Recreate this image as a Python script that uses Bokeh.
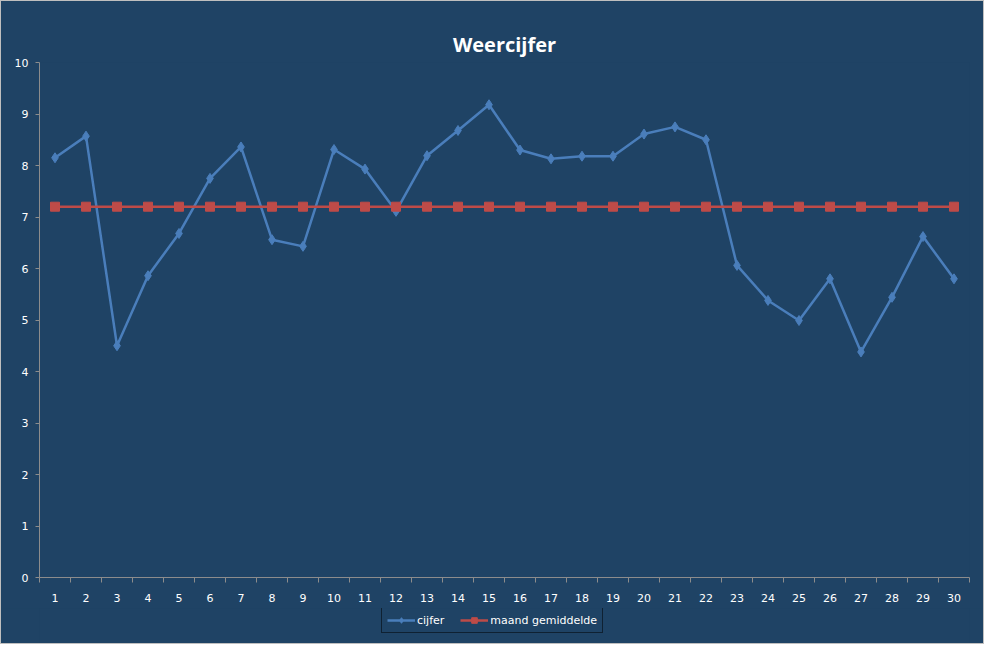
from bokeh.plotting import figure
from bokeh.layouts import column
from bokeh.models import FixedTicker, Legend, LegendItem, Range1d
from bokeh.embed import file_html
from bokeh.resources import INLINE

# dagen van de maand
dagen = list(range(1, 31))

# weercijfer per dag
cijfer = [8.15, 8.57, 4.50, 5.86, 6.68, 7.75, 8.36, 6.56, 6.43, 8.31,
          7.93, 7.11, 8.19, 8.68, 9.18, 8.30, 8.13, 8.18, 8.18, 8.61,
          8.75, 8.50, 6.06, 5.38, 4.99, 5.80, 4.38, 5.44, 6.62, 5.80]

# maandgemiddelde
gemiddelde = [7.20] * 30

y_ticks = list(range(0, 11))

bg = "#1F4365"
blauw = "#4A7EBB"
rood = "#BE4B48"
grijs = "#8C8C8C"

def series(fig):
	lijn1 = fig.line(dagen, cijfer, line_color=blauw, line_width=2.5)
	punt1 = fig.scatter(dagen, cijfer, marker="diamond", size=10, fill_color=blauw, line_color=blauw)
	lijn2 = fig.line(dagen, gemiddelde, line_color=rood, line_width=2.5)
	punt2 = fig.scatter(dagen, gemiddelde, marker="square", size=9, fill_color=rood, line_color=rood)
	return lijn1, punt1, lijn2, punt2

# grafiek
chart = figure(width=982, height=607, output_backend="svg", toolbar_location=None,
	title="Weercijfer")

chart.x_range = Range1d(0.5, 30.5)
chart.y_range = Range1d(0, 10)

chart.background_fill_color = bg
chart.border_fill_color = bg
chart.outline_line_color = None
chart.xgrid.visible = False
chart.ygrid.visible = False

chart.min_border_left = 38
chart.min_border_right = 14
chart.min_border_top = 61
chart.min_border_bottom = 31

chart.title.align = "center"
chart.title.text_color = "white"
chart.title.text_font = "Open Sans"
chart.title.text_font_size = "20px"
chart.title.text_font_style = "bold"
chart.title.standoff = 9

chart.xaxis.ticker = FixedTicker(ticks=dagen, minor_ticks=[d - 0.5 for d in dagen] + [30.5])
chart.yaxis.ticker = FixedTicker(ticks=y_ticks, minor_ticks=[])

for ax in (chart.xaxis, chart.yaxis):
	ax.axis_line_color = grijs
	ax.major_tick_line_color = grijs
	ax.minor_tick_line_color = grijs
	ax.major_label_text_color = "white"
	ax.major_label_text_font = "DejaVu Sans"
	ax.major_label_text_font_size = "11px"
	ax.major_tick_in = 0
	ax.minor_tick_in = 0

chart.xaxis.major_tick_out = 0
chart.xaxis.minor_tick_out = 5
chart.xaxis.major_label_standoff = 11
chart.yaxis.major_tick_out = 4
chart.yaxis.minor_tick_out = 0
chart.yaxis.major_label_standoff = 7

series(chart)

# legenda onder de grafiek (zelfde reeksen, buiten beeld)
lg = figure(width=982, height=35, output_backend="svg", toolbar_location=None)
lg.x_range = Range1d(0.5, 30.5)
lg.y_range = Range1d(100, 101)
lg.background_fill_color = bg
lg.border_fill_color = bg
lg.outline_line_color = None
lg.axis.visible = False
lg.grid.visible = False
lg.min_border = 0

l1, m1, l2, m2 = series(lg)

legend = Legend(items=[
	LegendItem(label="cijfer", renderers=[l1, m1]),
	LegendItem(label="maand gemiddelde", renderers=[l2, m2]),
], orientation="horizontal", location=(342, 10))
legend.background_fill_alpha = 0
legend.border_line_color = "black"
legend.border_line_width = 1
legend.label_text_color = "white"
legend.label_text_font = "DejaVu Sans"
legend.label_text_font_size = "11px"
legend.glyph_width = 28
legend.glyph_height = 14
legend.label_height = 14
legend.padding = 5
legend.spacing = 16
legend.margin = 0
legend.label_standoff = 2
lg.add_layout(legend)

p = column(chart, lg, spacing=0)
p.styles = {"background-color": bg, "border": "1px solid #BFBFBF"}

open("out.html", "w").write(file_html(p, INLINE))
